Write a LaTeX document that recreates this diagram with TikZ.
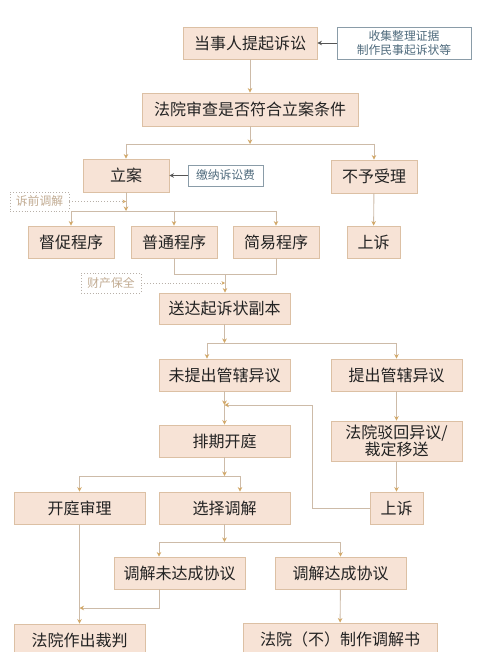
\documentclass[tikz,border=0pt]{standalone}
\usepackage{fontspec}
\setmainfont{Noto Sans CJK SC}
\usetikzlibrary{arrows.meta}
\definecolor{boxfill}{HTML}{F7E3D6}
\definecolor{boxline}{HTML}{DCC0A4}
\definecolor{linecol}{HTML}{CDBBA8}
\definecolor{tipcol}{HTML}{D2A868}
\definecolor{txt}{HTML}{222222}
\definecolor{bluetxt}{HTML}{4F6B7D}
\definecolor{bluebox}{HTML}{8A9CA8}
\definecolor{dottxt}{HTML}{C2AC93}
\definecolor{dotline}{HTML}{B8B0A8}
\definecolor{darkarr}{HTML}{555555}
\begin{document}
\begin{tikzpicture}[x=1pt,y=-1pt,
  box/.style={draw=boxline,fill=boxfill,line width=0.9pt,inner sep=0pt,text=txt,
    font=\fontsize{16}{19}\selectfont,align=center},
  note/.style={draw=bluebox,fill=white,line width=0.9pt,inner sep=0pt,text=bluetxt,
    font=\fontsize{11.8}{14.5}\selectfont,align=center},
  dotbox/.style={draw=dotline,dotted,line width=0.9pt,inner sep=0pt,text=dottxt,
    font=\fontsize{11.8}{14}\selectfont},
  conn/.style={draw=linecol,line width=0.9pt},
  arr/.style={conn,-{Stealth[length=4.5pt,width=4.5pt,color=tipcol]}},
  darr/.style={draw=darkarr,line width=0.9pt,-{Stealth[length=4.5pt,width=4.5pt,color=darkarr]}},
  dotarr/.style={draw=dotline,dotted,line width=0.9pt,-{Stealth[length=3.5pt,width=3.5pt,color=tipcol]}}
]
\useasboundingbox (0,0) rectangle (500,652);
\clip (0,0) rectangle (500,652);
\fill[white] (0,0) rectangle (500,652);

% nodes
\node[box,minimum width=134pt,minimum height=32pt] (a) at (250,43) {当事人提起诉讼};
\node[note,minimum width=134pt,minimum height=32pt] (n1) at (404,43) {收集整理证据\\制作民事起诉状等};
\node[box,minimum width=216pt,minimum height=33pt] (b) at (250,109.5) {法院审查是否符合立案条件};
\node[box,minimum width=86pt,minimum height=33pt] (c) at (126,175.5) {立案};
\node[note,minimum width=75pt,minimum height=21pt] (n2) at (225.5,175.5) {缴纳诉讼费};
\node[box,minimum width=86pt,minimum height=33pt] (d) at (374,176.5) {不予受理};
\node[dotbox,minimum width=59pt,minimum height=19pt] (e1) at (39.5,201.5) {诉前调解};
\node[box,minimum width=86pt,minimum height=32pt] (f1) at (71,242) {督促程序};
\node[box,minimum width=86pt,minimum height=32pt] (f2) at (174,242) {普通程序};
\node[box,minimum width=86pt,minimum height=32pt] (f3) at (276,242) {简易程序};
\node[box,minimum width=53pt,minimum height=32pt] (g) at (373.5,242) {上诉};
\node[dotbox,minimum width=60pt,minimum height=20pt] (e2) at (111,283) {财产保全};
\node[box,minimum width=131pt,minimum height=31pt] (h) at (224.5,308.5) {送达起诉状副本};
\node[box,minimum width=131pt,minimum height=32pt] (i) at (224.5,375) {未提出管辖异议};
\node[box,minimum width=131pt,minimum height=32pt] (j) at (396.5,375) {提出管辖异议};
\node[box,minimum width=131pt,minimum height=32pt] (k) at (224.5,441) {排期开庭};
\node[box,minimum width=131pt,minimum height=40pt,font=\fontsize{16}{17}\selectfont] (l) at (396.5,441) {法院驳回异议/\\裁定移送};
\node[box,minimum width=53pt,minimum height=32pt] (m) at (396.5,508) {上诉};
\node[box,minimum width=131pt,minimum height=32pt] (o) at (79.5,508) {开庭审理};
\node[box,minimum width=131pt,minimum height=32pt] (p) at (224.5,508) {选择调解};
\node[box,minimum width=131pt,minimum height=32pt] (q) at (179.5,573) {调解未达成协议};
\node[box,minimum width=131pt,minimum height=32pt] (r) at (340.5,573) {调解达成协议};
\node[box,minimum width=131pt,minimum height=32pt] (s) at (79.5,640) {法院作出裁判};
\node[box,minimum width=194pt,minimum height=33pt] (t) at (340,639.5) {法院（不）制作调解书};

% junction coordinates
\coordinate (J1) at (250,144);
\coordinate (J2) at (126,211);
\coordinate (J3) at (225,274);
\coordinate (J4) at (224.5,343);
\coordinate (J5) at (224.5,405);
\coordinate (J6) at (224.5,476);
\coordinate (J7) at (224.5,542);
\coordinate (Ri) at (207,343);
\coordinate (Rp) at (240,476);
\coordinate (Rq) at (159,542);
\coordinate (Bk) at (312,405);
\coordinate (Qd) at (159,608);

% connectors
\draw[arr] (a) -- (b);
\draw[darr] (n1) -- (a);
\draw[arr] (b) -- (J1);
\draw[conn] (c.north|-J1) -- (d.north|-J1);
\draw[arr] (c.north|-J1) -- (c.north);
\draw[arr] (d.north|-J1) -- (d.north);
\draw[darr] (n2) -- (c);
\draw[arr] (c) -- (J2);
\draw[conn] (f1.north|-J2) -- (f3.north|-J2);
\draw[arr] (f1.north|-J2) -- (f1.north);
\draw[arr] (f2.north|-J2) -- (f2.north);
\draw[arr] (f3.north|-J2) -- (f3.north);
\draw[dotarr] (e1.east) -- (e1.east-|J2);
\draw[arr] (d) -- (g);
\draw[conn] (f2.south) -- (f2.south|-J3) -- (f3.south|-J3) -- (f3.south);
\draw[arr] (J3) -- (J3|-h.north);
\draw[dotarr] (e2.east) -- (e2.east-|J3);
\draw[arr] (h) -- (J4);
\draw[conn] (Ri) -- (j.north|-J4);
\draw[arr] (Ri) -- (Ri|-i.north);
\draw[arr] (j.north|-J4) -- (j.north);
\draw[arr] (i) -- (J5);
\draw[arr] (J5) -- (k);
\draw[arr] (m.west) -- (m.west-|Bk) -- (Bk) -- (J5);
\draw[arr] (j) -- (l);
\draw[arr] (l) -- (m);
\draw[arr] (k) -- (J6);
\draw[conn] (o.north|-J6) -- (Rp);
\draw[arr] (o.north|-J6) -- (o.north);
\draw[arr] (Rp) -- (Rp|-p.north);
\draw[arr] (p) -- (J7);
\draw[conn] (Rq) -- (r.north|-J7);
\draw[arr] (Rq) -- (Rq|-q.north);
\draw[arr] (r.north|-J7) -- (r.north);
\draw[arr] (Rq|-q.south) -- (Qd) -- (Qd-|o.south);
\draw[arr] (o) -- (s);
\draw[arr] (r) -- (t);
\end{tikzpicture}
\end{document}
